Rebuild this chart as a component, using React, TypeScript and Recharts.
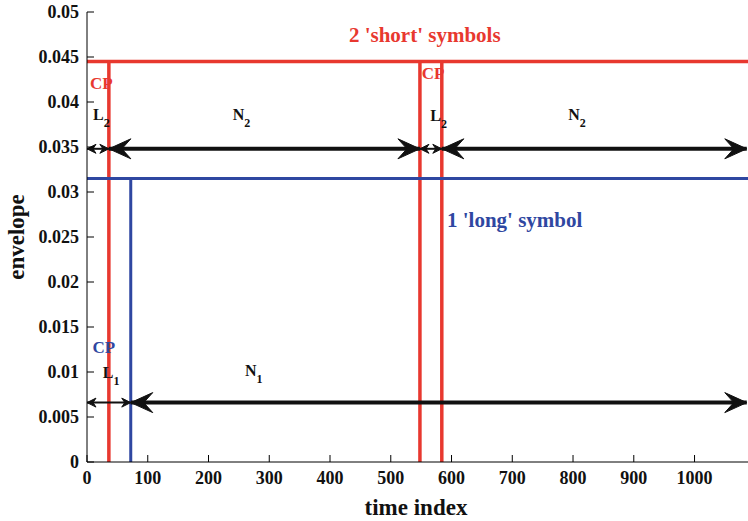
import React from 'react';
import {
  LineChart,
  Line,
  XAxis,
  YAxis,
  ReferenceLine,
  ReferenceDot,
  Label
} from 'recharts';

// axis setup
const xMax = 1088;
const xTicks = [0, 100, 200, 300, 400, 500, 600, 700, 800, 900, 1000];
const yTicks = [0, 0.005, 0.01, 0.015, 0.02, 0.025, 0.03, 0.035, 0.04, 0.045, 0.05];
const yTickLabels = ['0', '0.005', '0.01', '0.015', '0.02', '0.025', '0.03', '0.035', '0.04', '0.045', '0.05'];

// 2 short symbols (red) and 1 long symbol (blue)
const redLevel = 0.0445;
const redBounds = [36, 548, 584];
const blueLevel = 0.0315;
const blueBounds = [72];

// arrows: [from, to, level]
const arrowsBig = [
  [36, 548, 0.0348],
  [584, 1086, 0.0348],
  [72, 1086, 0.0066]
];
const arrowsSmall = [
  [0, 36, 0.0348],
  [548, 584, 0.0348],
  [0, 72, 0.0066]
];

// annotation labels
const annotations = [
  { text: "2 'short' symbols", sub: '', x: 556, y: 0.0467, color: '#e8382f', size: 21, anchor: 'middle' },
  { text: "1 'long' symbol", sub: '', x: 704, y: 0.0261, color: '#2f47a1', size: 21, anchor: 'middle' },
  { text: 'CP', sub: '', x: 5, y: 0.0414, color: '#e8382f', size: 17, anchor: 'start' },
  { text: 'CP', sub: '', x: 551, y: 0.0426, color: '#e8382f', size: 17, anchor: 'start' },
  { text: 'CP', sub: '', x: 9, y: 0.0121, color: '#2f47a1', size: 17, anchor: 'start' },
  { text: 'L', sub: '2', x: 10, y: 0.038, color: '#111', size: 16, anchor: 'start' },
  { text: 'L', sub: '2', x: 565, y: 0.0379, color: '#111', size: 16, anchor: 'start' },
  { text: 'N', sub: '2', x: 240, y: 0.038, color: '#111', size: 16, anchor: 'start' },
  { text: 'N', sub: '2', x: 792, y: 0.038, color: '#111', size: 16, anchor: 'start' },
  { text: 'L', sub: '1', x: 26, y: 0.0093, color: '#111', size: 16, anchor: 'start' },
  { text: 'N', sub: '1', x: 260, y: 0.0096, color: '#111', size: 16, anchor: 'start' }
];

const RED = '#e8382f';
const BLUE = '#2f47a1';
const FONT = '"Liberation Serif", "Times New Roman", serif';

const redSegments = [
  [{ x: 0, y: redLevel }, { x: xMax, y: redLevel }],
  ...redBounds.map(b => [{ x: b, y: 0 }, { x: b, y: redLevel }])
];
const blueSegments = [
  [{ x: 0, y: blueLevel }, { x: xMax, y: blueLevel }],
  ...blueBounds.map(b => [{ x: b, y: 0 }, { x: b, y: blueLevel }])
];

const BottomTick = (props: any) => {
  const { x, y, payload } = props;
  return (
    <g>
      <line x1={x} x2={x} y1={y} y2={y - 7} stroke="#000" strokeWidth={1} />
      <text x={x} y={y + 22} textAnchor="middle" fontSize={18} fontWeight="bold" fontFamily={FONT} fill="#111">
        {payload.value}
      </text>
    </g>
  );
};

const TopTick = (props: any) => {
  const { x, y } = props;
  return <line x1={x} x2={x} y1={y} y2={y + 7} stroke="#000" strokeWidth={1} />;
};

const LeftTick = (props: any) => {
  const { x, y, payload } = props;
  const idx = yTicks.indexOf(payload.value);
  return (
    <g>
      <line x1={x} x2={x + 7} y1={y} y2={y} stroke="#000" strokeWidth={1} />
      <text x={x - 8} y={y + 6} textAnchor="end" fontSize={18} fontWeight="bold" fontFamily={FONT} fill="#111">
        {idx >= 0 ? yTickLabels[idx] : payload.value}
      </text>
    </g>
  );
};

const makeArrow = (head: number, half: number, notch: number, width: number) => (p: any) => {
  const { x1, y1, x2, y2 } = p;
  const dir = x2 > x1 ? 1 : -1;
  const headPath = (tx: number, ty: number, d: number) =>
    `M${tx},${ty} L${tx - d * head},${ty - half} L${tx - d * notch},${ty} L${tx - d * head},${ty + half} Z`;
  return (
    <g>
      <line x1={x1} y1={y1} x2={x2} y2={y2} stroke="#111" strokeWidth={width} />
      <path d={headPath(x2, y2, dir)} fill="#111" stroke="#111" strokeWidth={1} />
      <path d={headPath(x1, y1, -dir)} fill="#111" stroke="#111" strokeWidth={1} />
    </g>
  );
};

const bigArrow = makeArrow(22, 10, 13, 4);
const smallArrow = makeArrow(9, 4.5, 6, 2);

export default function App() {
  return (
    <div style={{ position: 'absolute', left: 0, top: 0, background: '#fff' }}>
      <LineChart width={748} height={521} margin={{ top: 12, right: 0, left: 0, bottom: 0 }}>
        <XAxis
          type="number"
          dataKey="x"
          domain={[0, xMax]}
          ticks={xTicks}
          interval={0}
          allowDataOverflow
          tickSize={0}
          tickMargin={0}
          tickLine={false}
          tick={<BottomTick />}
          axisLine={{ stroke: '#000', strokeWidth: 1 }}
          height={59}
        >
          <Label
            content={() => (
              <text x={416} y={515} textAnchor="middle" fontSize={23} fontWeight="bold" fontFamily={FONT} fill="#111">
                time index
              </text>
            )}
          />
        </XAxis>
        <XAxis
          xAxisId="top"
          orientation="top"
          type="number"
          dataKey="x"
          domain={[0, xMax]}
          ticks={xTicks}
          interval={0}
          allowDataOverflow
          tickSize={0}
          tickMargin={0}
          tickLine={false}
          tick={<TopTick />}
          axisLine={{ stroke: '#000', strokeWidth: 1 }}
          height={0}
        />
        <YAxis
          type="number"
          domain={[0, 0.05]}
          ticks={yTicks}
          interval={0}
          allowDataOverflow
          tickSize={0}
          tickMargin={0}
          tickLine={false}
          tick={<LeftTick />}
          axisLine={{ stroke: '#000', strokeWidth: 1 }}
          width={87}
        >
          <Label
            content={() => (
              <text x={0} y={0} transform="translate(24,237) rotate(-90)" textAnchor="middle" fontSize={23} fontWeight="bold" fontFamily={FONT} fill="#111">
                envelope
              </text>
            )}
          />
        </YAxis>

        {redSegments.map((seg, i) => (
          <Line
            key={'r' + i}
            data={seg}
            dataKey="y"
            type="linear"
            stroke={RED}
            strokeWidth={3.5}
            dot={false}
            activeDot={false}
            isAnimationActive={false}
          />
        ))}
        {blueSegments.map((seg, i) => (
          <Line
            key={'b' + i}
            data={seg}
            dataKey="y"
            type="linear"
            stroke={BLUE}
            strokeWidth={3}
            dot={false}
            activeDot={false}
            isAnimationActive={false}
          />
        ))}

        {arrowsBig.map(([a, b, lvl], i) => (
          <ReferenceLine key={'ab' + i} segment={[{ x: a, y: lvl }, { x: b, y: lvl }]} shape={bigArrow} />
        ))}
        {arrowsSmall.map(([a, b, lvl], i) => (
          <ReferenceLine key={'as' + i} segment={[{ x: a, y: lvl }, { x: b, y: lvl }]} shape={smallArrow} />
        ))}

        {annotations.map((a, i) => (
          <ReferenceDot
            key={'t' + i}
            x={a.x}
            y={a.y}
            r={1}
            shape={(p: any) => (
              <text x={p.cx} y={p.cy} textAnchor={a.anchor as any} fontSize={a.size} fontWeight="bold" fontFamily={FONT} fill={a.color}>
                {a.text}
                {a.sub ? (
                  <tspan fontSize={a.size * 0.75} dy={7}>{a.sub}</tspan>
                ) : null}
              </text>
            )}
          />
        ))}
      </LineChart>
    </div>
  );
}
